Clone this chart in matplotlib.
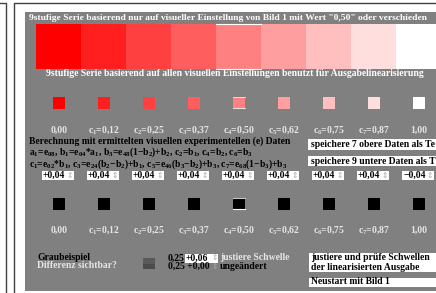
import matplotlib
matplotlib.use("Agg")
import matplotlib.pyplot as plt
from matplotlib.patches import Rectangle

plt.rcParams['font.family'] = ['Liberation Serif', 'DejaVu Sans']
plt.rcParams['font.weight'] = 'bold'
plt.rcParams['mathtext.fontset'] = 'custom'
plt.rcParams['mathtext.rm'] = 'Liberation Serif:bold'
plt.rcParams['mathtext.it'] = 'Liberation Serif:bold'
plt.rcParams['mathtext.bf'] = 'Liberation Serif:bold'
plt.rcParams['mathtext.default'] = 'rm'

# ---- data ----
c_values = [0.00, 0.12, 0.25, 0.37, 0.50, 0.62, 0.75, 0.87, 1.00]
step_labels = ["0,00", "c$_1$=0,12", "c$_2$=0,25", "c$_3$=0,37", "c$_4$=0,50",
               "c$_5$=0,62", "c$_6$=0,75", "c$_7$=0,87", "1,00"]
spin_values = ["+0,04", "+0,04", "+0,04", "+0,04", "+0,04", "+0,04", "+0,04", "+0,04", "\u22120,04"]
title1 = "9stufige Serie basierend nur auf visueller Einstellung von Bild 1 mit Wert \"0,50\" oder verschieden"
title2 = "9stufige Serie basierend auf allen visuellen Einstellungen benutzt f\u00fcr Ausgabelinearisierung"
calc_lines = ["Berechnung mit ermittelten visuellen experimentellen (e) Daten",
              "a$_1$=e$_{08}$, b$_1$=e$_{04}$*a$_1$, b$_3$=e$_{48}$(1\u2212b$_2$)+b$_2$, c$_2$=b$_1$, c$_4$=b$_2$, c$_6$=b$_3$",
              "c$_1$=e$_{02}$*b$_1$, c$_3$=e$_{24}$(b$_2$\u2212b$_2$)+b$_1$, c$_5$=e$_{46}$(b$_3$\u2212b$_2$)+b$_3$, c$_7$=e$_{68}$(1\u2212b$_3$)+b$_3$"]
save_top = "speichere 7 obere Daten als Te"
save_bottom = "speichere 9 untere Daten als T"

W, H = 436, 293
fig = plt.figure(figsize=(W / 100, H / 100), dpi=100)
ax = fig.add_axes([0, 0, 1, 1])
ax.set_xlim(0, W)
ax.set_ylim(H, 0)
ax.axis('off')

FS = 6.9
GRAY = '#808080'
LIGHT = '#e6e6e6'

# frame lines
ax.plot([0, 5.5, 5.5], [2.5, 2.5, H], color='#404040', lw=1.0)
ax.plot([436, 13.5, 13.5], [2.5, 2.5, H], color='#404040', lw=1.0)

# gray panel
ax.add_patch(Rectangle((25, 12), 420, 279, color=GRAY, lw=0))

# titles
ax.text(29, 17.5, title1, color='white', fontsize=6.8, va='center', ha='left')

# big swatches
for i, c in enumerate(c_values):
    ax.add_patch(Rectangle((36 + 45 * i, 24), 45, 45, facecolor=(1, c, c), lw=0))
ax.plot([216, 261], [23.5, 23.5], color='white', lw=0.8)
ax.plot([216, 261], [68.5, 68.5], color='white', lw=0.8)

ax.text(46, 74, title2, color='white', fontsize=FS, va='center', ha='left')

# small swatches
for i, c in enumerate(c_values):
    ax.add_patch(Rectangle((53 + 45 * i, 97), 12, 11.5, facecolor=(1, c, c), lw=0))
ax.plot([233, 245], [97, 97], color='#dddddd', lw=0.7)
ax.plot([233, 245], [108.3, 108.3], color='#dddddd', lw=0.8)

for i, lab in enumerate(step_labels):
    ax.text(59 + 45 * i, 130, lab, color=LIGHT, fontsize=FS, ha='center', va='center')

# calculation text
calc_y = [141.5, 152, 164.5]
for j, line in enumerate(calc_lines):
    ax.text(29, calc_y[j], line, color='black', fontsize=FS, ha='left', va='center')

# right buttons
ax.add_patch(Rectangle((308, 139), 140, 11, facecolor='white', lw=0))
ax.text(311, 144.5, save_top, color='black', fontsize=FS, va='center', ha='left')
ax.add_patch(Rectangle((308, 156), 140, 10, facecolor='white', lw=0))
ax.text(311, 161, save_bottom, color='black', fontsize=FS, va='center', ha='left')

# spinners
for i, v in enumerate(spin_values):
    x0 = 42 + 45 * i
    ax.add_patch(Rectangle((x0, 170.5), 32, 9, facecolor='white', lw=0))
    ax.text(x0 + 1, 175, v, color='black', fontsize=FS, va='center', ha='left')
    ax.text(x0 + 31, 175, "\u21d5", color='#aaaaaa', fontsize=5.5, va='center', ha='right',
            family='DejaVu Sans', fontweight='normal')

# black squares
for i in range(len(c_values)):
    ax.add_patch(Rectangle((53 + 45 * i, 198), 12, 11.5, facecolor='black', lw=0))
ax.plot([233, 245], [198, 198], color='#cccccc', lw=0.7)
ax.plot([233, 245], [209.3, 209.3], color='white', lw=0.8)

for i, lab in enumerate(step_labels):
    ax.text(59 + 45 * i, 230, lab, color=LIGHT, fontsize=FS, ha='center', va='center')

# bottom section
ax.text(37, 258, "Graubeispiel", color='black', fontsize=FS, va='center', ha='left')
ax.text(37, 266, "Differenz sichtbar?", color=LIGHT, fontsize=FS, va='center', ha='left')
ax.add_patch(Rectangle((143, 258), 12, 5.5, facecolor='#5a5a5a', lw=0))
ax.add_patch(Rectangle((143, 263.5), 12, 5.5, facecolor='#4b4b4b', lw=0))

ax.text(168, 258, "0,25", color='black', fontsize=FS, va='center', ha='left')
ax.add_patch(Rectangle((185, 253.5), 33, 9, facecolor='white', lw=0))
ax.text(186, 258, "+0,06", color='black', fontsize=FS, va='center', ha='left')
ax.text(217.5, 258, "\u21d5", color='#aaaaaa', fontsize=5.5, va='center', ha='right',
        family='DejaVu Sans', fontweight='normal')
ax.text(220, 258, "justiere Schwelle", color=LIGHT, fontsize=FS, va='center', ha='left')
ax.text(168, 266.5, "0,25 +0,00", color='black', fontsize=FS, va='center', ha='left')
ax.text(217.5, 266.5, "\u21d5", color='#aaaaaa', fontsize=5.5, va='center', ha='right',
        family='DejaVu Sans', fontweight='normal')
ax.text(220, 266.5, "unge\u00e4ndert", color='black', fontsize=FS, va='center', ha='left')

ax.add_patch(Rectangle((309, 253), 140, 19, facecolor='white', lw=0))
ax.text(311, 258, "justiere und pr\u00fcfe Schwellen", color='black', fontsize=FS, va='center', ha='left')
ax.text(311, 267, "der linearisierten Ausgabe", color='black', fontsize=FS, va='center', ha='left')
ax.add_patch(Rectangle((309, 277.5), 140, 9, facecolor='white', lw=0))
ax.text(311, 282, "Neustart mit Bild 1", color='black', fontsize=FS, va='center', ha='left')

fig.savefig("out.png", dpi=100)
